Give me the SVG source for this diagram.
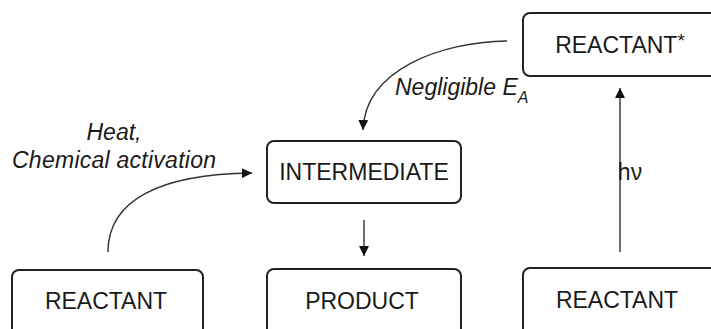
<svg xmlns="http://www.w3.org/2000/svg" width="711" height="329" viewBox="0 0 711 329">
<defs>
<style>
.box{fill:#fff;stroke:#222;stroke-width:2}
.lbl{font-family:"Liberation Sans",Arial,sans-serif;font-size:23px;fill:#1a1a1a;text-anchor:middle}
.it{font-family:"Liberation Sans",Arial,sans-serif;font-size:23px;font-style:italic;fill:#1a1a1a}
.con{fill:none;stroke:#333;stroke-width:1.4}
</style>
<marker id="ah" viewBox="0 0 10 10" refX="10" refY="5" markerWidth="10" markerHeight="10" markerUnits="userSpaceOnUse" orient="auto">
<path d="M0,0 L10,5 L0,10 Z" fill="#111"/>
</marker>
</defs>
<rect width="711" height="329" fill="#fff"/>
<g id="connectors">
<path class="con" d="M108,252 C108,200 160,174 252,173" marker-end="url(#ah)"/>
<path class="con" d="M507,41 C440,42 365,70 363,130" marker-end="url(#ah)"/>
<path class="con" d="M364,220 L364,256" marker-end="url(#ah)"/>
<path class="con" d="M620,252 L620,88" marker-end="url(#ah)"/>
</g>
<g id="labels">
<text class="it" x="114" y="140" text-anchor="middle">Heat,</text>
<text class="it" x="114" y="168" text-anchor="middle" textLength="204">Chemical activation</text>
<text class="it" x="395" y="95">Negligible <tspan>E</tspan><tspan font-size="16" dy="8">A</tspan></text>
<text class="lbl" x="630" y="180" text-anchor="start">hν</text>
</g>
<g id="reactant-star">
<rect class="box" x="523" y="13" width="200" height="63" rx="7"/>
<text class="lbl" x="620" y="53">REACTANT<tspan font-size="19" dy="-6">*</tspan></text>
</g>
<g id="intermediate">
<rect class="box" x="267" y="141" width="194" height="62" rx="7"/>
<text class="lbl" x="364" y="180">INTERMEDIATE</text>
</g>
<g id="reactant-left">
<rect class="box" x="12" y="270" width="191" height="70" rx="7"/>
<text class="lbl" x="106" y="309">REACTANT</text>
</g>
<g id="product">
<rect class="box" x="267" y="269" width="194" height="70" rx="7"/>
<text class="lbl" x="362" y="309">PRODUCT</text>
</g>
<g id="reactant-right">
<rect class="box" x="523" y="268" width="200" height="70" rx="7"/>
<text class="lbl" x="617" y="308">REACTANT</text>
</g>
</svg>
